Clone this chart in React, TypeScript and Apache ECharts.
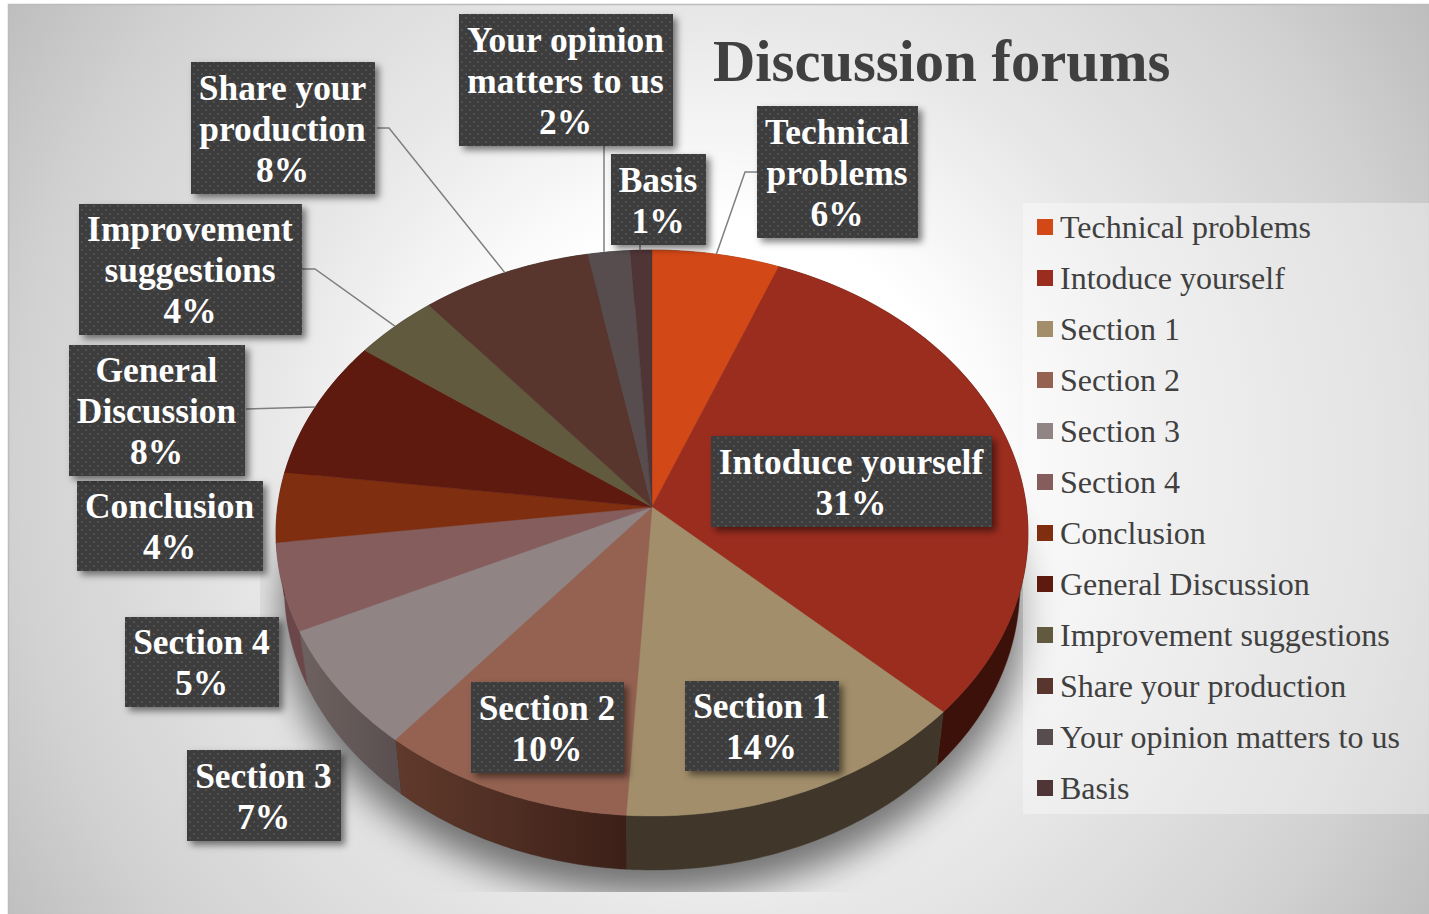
import React, { useEffect, useRef } from "react";
import * as echarts from "echarts";

const categories = [
  "Technical problems", "Intoduce yourself", "Section 1", "Section 2", "Section 3", "Section 4",
  "Conclusion", "General Discussion", "Improvement suggestions", "Share your production",
  "Your opinion matters to us", "Basis",
];
const percents = [6, 31, 14, 10, 7, 5, 4, 8, 4, 8, 2, 1];
const topColors = [
  "#D34817", "#9B2D1F", "#A28E6A", "#956251", "#918485", "#855D5D",
  "#7F2E10", "#5F1A10", "#615A3F", "#59362D", "#574D4E", "#503536",
];
const wallColors = [
  ["#7a2a0d", "#7a2a0d"], ["#3c110a", "#3c110a"], ["#40372a", "#40372a"], ["#603a2c", "#3c2018"],
  ["#6e6260", "#5a4f50"], ["#6b474a", "#6b474a"], ["#4d1b09", "#4d1b09"], ["#390f09", "#390f09"],
  ["#3a3626", "#3a3626"], ["#35201b", "#35201b"], ["#342e2f", "#342e2f"], ["#302021", "#302021"],
];
const labelLines = [
  ["Technical", "problems"], ["Intoduce yourself"], ["Section 1"], ["Section 2"], ["Section 3"], ["Section 4"],
  ["Conclusion"], ["General", "Discussion"], ["Improvement", "suggestions"], ["Share your", "production"],
  ["Your opinion", "matters to us"], ["Basis"],
];

// Callout boxes: left, top, right, bottom
const labelBoxes = [
  [757, 106, 918, 238], [711, 436, 992, 527], [685, 681, 839, 771], [471, 682, 624, 773],
  [187, 750, 341, 841], [125, 617, 279, 707], [77, 481, 263, 571], [69, 345, 245, 476],
  [79, 204, 302, 335], [191, 62, 375, 194], [459, 14, 673, 146], [611, 154, 706, 245],
];
// Leader line start points; the last point is found on the rim of the slice
const leaders: Record<number, { pts: number[][]; vertical?: boolean }> = {
  0: { pts: [[757, 172], [745, 172]] },
  7: { pts: [[246, 409]] },
  8: { pts: [[302, 269], [315, 269]] },
  9: { pts: [[377, 128], [389, 128]] },
  10: { pts: [[604, 146]], vertical: true },
  11: { pts: [[640, 245]], vertical: true },
};

// Perspective projection of the pie's top circle
const CX = 652, CY = 507, RX = 374.4, RY = 280.6, PERSP = 0.0919;
const DEPTH = 54, BOTTOM_SCALE = 0.978;
const FONT = '"Liberation Serif", "Times New Roman", serif';

const rim = (turn: number) => {
  const a = turn * Math.PI * 2;
  const w = 1 + PERSP * Math.cos(a);
  return [CX + (RX * Math.sin(a)) / w, CY - (RY * Math.cos(a)) / w];
};
const rimBottom = (turn: number) => {
  const [x, y] = rim(turn);
  return [CX + (x - CX) * BOTTOM_SCALE, y + DEPTH];
};
const arc = (from: number, to: number, fn: (t: number) => number[]) => {
  const steps = Math.max(2, Math.ceil((to - from) * 360));
  const out: number[][] = [];
  for (let i = 0; i <= steps; i++) out.push(fn(from + ((to - from) * i) / steps));
  return out;
};

function dotTile() {
  const c = document.createElement("canvas");
  c.width = 8;
  c.height = 8;
  const g = c.getContext("2d")!;
  g.fillStyle = "rgba(255,255,255,0.11)";
  g.fillRect(1, 1, 2, 2);
  g.fillRect(5, 5, 2, 2);
  return c;
}

export default function App() {
  const ref = useRef<HTMLDivElement>(null);
  useEffect(() => {
    document.body.style.margin = "0";
    const chart = echarts.init(ref.current!, undefined, { renderer: "svg" });
    const tile = dotTile();
    const total = percents.reduce((a, b) => a + b, 0);
    const pageFill = () =>
      new echarts.graphic.RadialGradient(715, 470, 860, [
        { offset: 0, color: "#ffffff" },
        { offset: 0.29, color: "#ffffff" },
        { offset: 0.52, color: "#e8e8e8" },
        { offset: 0.81, color: "#d2d2d2" },
        { offset: 0.965, color: "#c0c0c0" },
        { offset: 1, color: "#bcbcbc" },
      ], true);

    const renderSlice = (params: any, api: any) => {
      const i = params.seriesIndex;
      const start = percents.slice(0, i).reduce((a, b) => a + b, 0) / total;
      const end = start + api.value(0) / total;
      const mid = (start + end) / 2;
      const top = arc(start, end, rim);
      const low = arc(start, end, rimBottom);
      const wallXs = top.concat(low).map((p) => p[0]);
      const [wallL, wallR] = wallColors[i];
      const children: any[] = [
        {
          type: "polygon",
          z2: 1,
          shape: { points: top.concat(low.slice().reverse()) },
          style: {
            fill: new echarts.graphic.LinearGradient(
              Math.min(...wallXs), 0, Math.max(...wallXs), 0,
              [{ offset: 0, color: wallL }, { offset: 1, color: wallR }], true),
            stroke: wallR, lineWidth: 0.4,
          },
        },
        {
          type: "polygon",
          z2: 10,
          shape: { points: [[CX, CY], ...top] },
          style: { fill: topColors[i], stroke: topColors[i], lineWidth: 0.4 },
        },
      ];
      const lead = leaders[i];
      if (lead) {
        const r = rim(mid);
        const endPoint = lead.vertical ? [lead.pts[0][0], r[1]] : r;
        children.push({
          type: "polyline",
          z2: 12,
          shape: { points: [...lead.pts, endPoint] },
          style: { stroke: "#7f7f7f", lineWidth: 1.5, fill: "none" },
        });
      }
      const [l, t, rgt, b] = labelBoxes[i];
      const box = { x: l, y: t, width: rgt - l, height: b - t };
      children.push(
        {
          type: "rect", z2: 20, shape: box,
          style: {
            fill: "#3e3e3e", shadowBlur: 7, shadowOffsetX: 4, shadowOffsetY: 4,
            shadowColor: "rgba(0,0,0,0.5)",
          },
        },
        {
          type: "rect", z2: 21, shape: box,
          style: { fill: { image: tile, repeat: "repeat" } },
        },
        {
          type: "text", z2: 22,
          style: {
            text: [...labelLines[i], `${api.value(0)}%`].join("\n"),
            x: (l + rgt) / 2 - 0.5, y: (t + b) / 2 + 0.7,
            align: "center", verticalAlign: "middle",
            font: `bold 35.4px ${FONT}`, lineHeight: 41, fill: "#ffffff",
          },
        },
      );
      return { type: "group", children };
    };

    chart.setOption({
      animation: false,
      title: {
        text: "Discussion forums",
        left: 713,
        top: 32,
        padding: 0,
        textStyle: { fontFamily: FONT, fontSize: 58.6, fontWeight: "bold", color: "#404040" },
      },
      legend: {
        data: categories,
        orient: "vertical",
        left: 1037,
        top: 211,
        padding: 0,
        icon: "rect",
        itemWidth: 16,
        itemHeight: 16,
        itemGap: 19,
        selectedMode: false,
        textStyle: { fontFamily: FONT, fontSize: 32, color: "#404040", lineHeight: 32, padding: [0, 0, 0, 2] },
      },
      graphic: [
        { type: "rect", shape: { x: 8.5, y: 4.5, width: 1421, height: 910 }, style: { fill: pageFill(), stroke: "#bcbcbc", lineWidth: 1.5 } },
        {
          // The body stays behind the pie; only its offset blurred shadow shows on the floor
          type: "ellipse",
          shape: { cx: 653, cy: 558, rx: 371, ry: 283 },
          style: { fill: "#8a8a8a", shadowBlur: 36, shadowOffsetY: 54, shadowColor: "rgba(0,0,0,0.52)" },
        },
        { type: "rect", shape: { x: 9.5, y: 892, width: 1420, height: 22 }, style: { fill: pageFill() } },
        { type: "rect", shape: { x: 9.5, y: 560, width: 250.5, height: 332 }, style: { fill: pageFill() } },
        { type: "rect", shape: { x: 1023, y: 203, width: 406, height: 611 }, style: { fill: "rgba(255,255,255,0.36)" } },
      ],
      series: categories.map((name, i) => ({
        type: "custom",
        name,
        coordinateSystem: "none",
        silent: true,
        clip: false,
        itemStyle: { color: topColors[i] },
        data: [[percents[i]]],
        renderItem: renderSlice,
      })),
    });
    return () => chart.dispose();
  }, []);
  return <div ref={ref} style={{ width: 1429, height: 914, position: "absolute", left: 0, top: 0, overflow: "hidden" }} />;
}
